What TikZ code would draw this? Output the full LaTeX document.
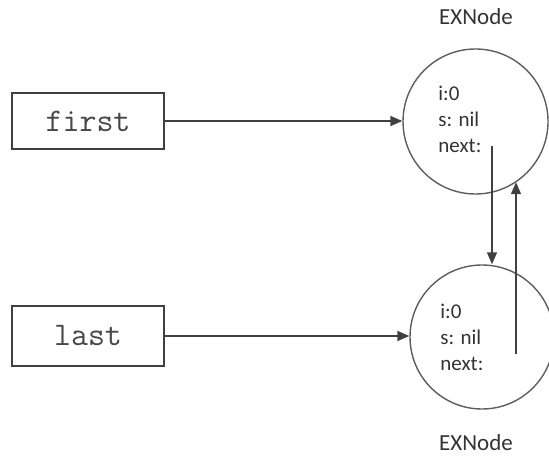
\documentclass[tikz,border=0pt]{standalone}
\usepackage{fontspec}
\setmainfont{Carlito}
\usetikzlibrary{arrows.meta,positioning,calc}
\definecolor{ListLine}{HTML}{404040}
\definecolor{ListText}{HTML}{333333}

\begin{document}
\begin{tikzpicture}[x=0.5pt,y=-0.5pt,
    ptrbox/.style={draw=ListLine,line width=0.75pt,minimum width=76pt,minimum height=28pt,
      inner sep=0pt,font=\ttfamily\fontsize{16.5}{16.5}\selectfont,text=ListText!90},
    listnode/.style={draw=ListLine!85,line width=0.7pt,circle,minimum size=72.5pt,inner sep=0pt},
    fields/.style={anchor=west,align=left,inner sep=0pt,font=\fontsize{10.5}{13}\selectfont,text=ListText},
    caption/.style={inner sep=0pt,font=\fontsize{11.5}{12}\selectfont,text=ListText},
    link/.style={draw=ListLine,line width=0.75pt,-{Triangle[length=6pt,width=5pt]}}]
  \useasboundingbox (0,0) rectangle (549,459);

  % pointer boxes
  \node[ptrbox] (first) at (88,121) {first};
  \node[ptrbox,minimum height=30pt] (last) at (88,336) {last};

  % list nodes
  \node[listnode] (n1) at (475.5,121.5) {};
  \node[listnode,minimum size=72pt] (n2) at (482,337) {};
  \node[caption] (n1cap) at (476,17) {EXNode};
  \node[caption] (n2cap) at (476,443) {EXNode};
  \node[fields] (n1f) at (438,119) {i:0\\s: nil\\next:};
  \node[fields] (n2f) at (440,337) {i:0\\s: nil\\next:};

  \coordinate (n1next) at (492,146);
  \coordinate (n2next) at (516,354);

  % connectors
  \draw[link] (first.east) -- (first.east -| n1.west);
  \draw[link] (last.east) -- (last.east -| n2.west);
  \draw[link] (n1next) -- (n1next |- n2.north);
  \draw[link] (n2next) -- (n2next |- n1.-56);
\end{tikzpicture}
\end{document}
